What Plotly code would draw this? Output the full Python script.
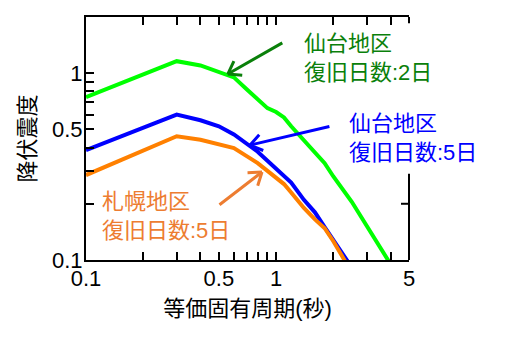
import math
import plotly.graph_objects as go

# Data
period = [0.1, 0.3, 0.4, 0.5, 0.6, 0.7, 0.8, 0.9, 1.0, 1.1, 1.2, 1.4, 1.6, 1.8, 2.0, 2.5, 3.0, 3.5, 4.0]
sendai_2d = [0.745, 1.16, 1.10, 1.02, 0.95, 0.82, 0.72, 0.65, 0.62, 0.58, 0.52, 0.44, 0.38, 0.33, 0.28, 0.205, 0.152, 0.119, 0.095]

period_b = [0.1, 0.3, 0.4, 0.5, 0.6, 0.7, 0.8, 0.9, 1.0, 1.1, 1.2, 1.4, 1.6, 1.8, 2.0, 2.2, 2.4]
sendai_5d = [0.387, 0.60, 0.56, 0.52, 0.47, 0.42, 0.38, 0.34, 0.31, 0.285, 0.26, 0.21, 0.18, 0.15, 0.128, 0.11, 0.097]
sapporo_5d = [0.285, 0.46, 0.44, 0.417, 0.397, 0.36, 0.33, 0.30, 0.275, 0.255, 0.23, 0.19, 0.165, 0.148, 0.126, 0.106, 0.092]

x_ticks = [0.1, 0.2, 0.3, 0.4, 0.5, 0.6, 0.7, 0.8, 0.9, 1, 2, 3, 4, 5]
x_labels = {0.1: "0.1", 0.5: "0.5", 1: "1", 5: "5"}
y_ticks = [0.1, 0.2, 0.3, 0.4, 0.5, 0.6, 0.7, 0.8, 0.9, 1, 2]
y_labels = {0.1: "0.1", 0.5: "0.5", 1: "1"}

labels = ["仙台地区<br>復旧日数:2日", "仙台地区<br>復旧日数:5日", "札幌地区<br>復旧日数:5日"]

line_green = "#00ff00"
line_blue = "#0000ff"
line_orange = "#ff8000"
txt_green = "#0a800a"
txt_blue = "#0000ff"
txt_orange = "#ed7d31"

CJK = "Liberation Sans, Noto Sans CJK JP"
LAT = "Liberation Sans, Arial"

fig = go.Figure()
fig.add_trace(go.Scatter(x=period, y=sendai_2d, mode="lines", line=dict(color=line_green, width=4)))
fig.add_trace(go.Scatter(x=period_b, y=sendai_5d, mode="lines", line=dict(color=line_blue, width=4)))
fig.add_trace(go.Scatter(x=period_b, y=sapporo_5d, mode="lines", line=dict(color=line_orange, width=4)))

axis_common = dict(
    type="log", ticks="inside", ticklen=8, tickwidth=2, tickcolor="black",
    showline=True, linecolor="black", linewidth=2, showgrid=False, zeroline=False,
    tickfont=dict(family=LAT, size=22, color="black"),
)

fig.update_xaxes(
    range=[-1, math.log10(5)],
    tickvals=x_ticks, ticktext=[x_labels.get(v, "") for v in x_ticks],
    mirror="ticks", ticklabelstandoff=-2,
    title=dict(text="等価固有周期(秒)", font=dict(family=CJK, size=22, color="black"), standoff=10),
    **axis_common,
)
fig.update_yaxes(
    range=[-1, math.log10(2)],
    tickvals=y_ticks, ticktext=[y_labels.get(v, "") for v in y_ticks],
    mirror=False, ticklabelstandoff=-3,
    title=dict(text="降伏震度", font=dict(family=CJK, size=22, color="black"), standoff=10),
    **axis_common,
)

# partial right frame with one tick (rest hidden behind labels in the reference)
yr0, yr1 = -1, math.log10(2)
def yfrac(v):
    return (math.log10(v) - yr0) / (yr1 - yr0)

fig.add_shape(type="line", xref="paper", yref="paper", x0=1, x1=1, y0=0, y1=yfrac(0.29),
              line=dict(color="black", width=2))
fig.add_shape(type="line", xref="paper", yref="paper", x0=1, x1=1, y0=yfrac(1.85), y1=1,
              line=dict(color="black", width=2))
fig.add_shape(type="line", xref="paper", yref="paper", xsizemode="pixel", xanchor=1,
              x0=-8, x1=0, y0=yfrac(0.2), y1=yfrac(0.2), line=dict(color="black", width=2))

# text labels
fig.add_annotation(text=labels[0], xref="paper", yref="paper", x=0.669, y=0.83,
                   xanchor="left", yanchor="middle", align="left", showarrow=False,
                   font=dict(family=CJK, size=22, color=txt_green))
fig.add_annotation(text=labels[1], xref="paper", yref="paper", x=0.808, y=0.502,
                   xanchor="left", yanchor="middle", align="left", showarrow=False,
                   font=dict(family=CJK, size=22, color=txt_blue))
fig.add_annotation(text=labels[2], xref="paper", yref="paper", x=0.043, y=0.182,
                   xanchor="left", yanchor="middle", align="left", showarrow=False,
                   font=dict(family=CJK, size=22, color=txt_orange))

# arrows with open V heads: tip in data coordinates, tail as pixel offset
arrows = [
    (0.557, 0.99, 56, -32, txt_green),
    (0.728, 0.412, 81, -19, txt_blue),
    (0.843, 0.296, -44, 34, txt_orange),
]
for tx, ty, ax, ay, col in arrows:
    lx, ly = math.log10(tx), math.log10(ty)
    fig.add_annotation(x=lx, y=ly, ax=ax, ay=ay, xref="x", yref="y", text="",
                       showarrow=True, arrowhead=0, arrowwidth=3, arrowcolor=col)
    L = math.hypot(ax, ay)
    ux, uy = ax / L, ay / L
    for ang in (math.radians(35), math.radians(-35)):
        wx = ux * math.cos(ang) - uy * math.sin(ang)
        wy = ux * math.sin(ang) + uy * math.cos(ang)
        fig.add_annotation(x=lx, y=ly, ax=wx * 16, ay=wy * 16, xref="x", yref="y", text="",
                           showarrow=True, arrowhead=0, arrowwidth=3, arrowcolor=col)

fig.update_layout(
    width=509, height=340,
    margin=dict(l=86, r=100, t=17, b=80, autoexpand=False),
    paper_bgcolor="white", plot_bgcolor="white",
    showlegend=False,
)

fig.write_html("out.html")
